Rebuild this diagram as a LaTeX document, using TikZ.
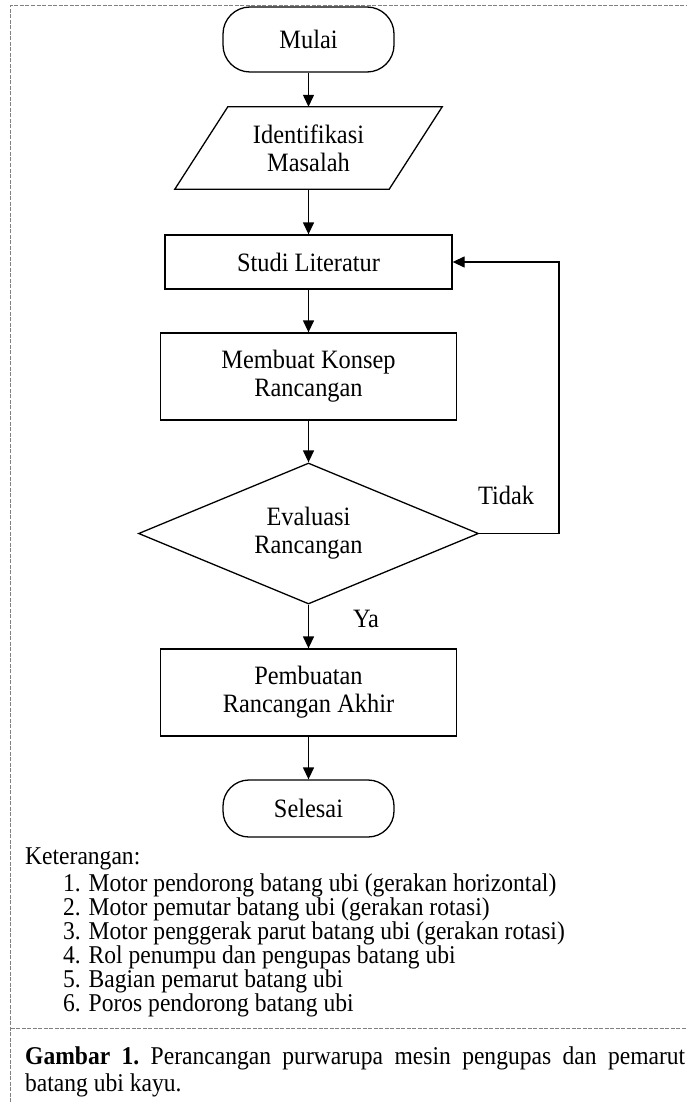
\documentclass[tikz,border=0pt]{standalone}
\usepackage{fontspec}
\setmainfont[FakeStretch=0.92]{Liberation Serif}
\usetikzlibrary{arrows.meta,shapes.geometric,calc}
\begin{document}
\begin{tikzpicture}[x=1pt,y=-1pt,
  every node/.style={font=\fontsize{26.5}{28}\selectfont, inner sep=0pt},
  box/.style={draw, line width=1.3pt, rectangle, align=center},
  term/.style={draw, line width=1.3pt, rectangle, rounded corners=27pt},
  dec/.style={draw, line width=1.3pt, diamond, align=center, aspect=2.4},
  flow/.style={line width=1.3pt, -{Triangle[length=12pt,width=11pt]}},
  frame/.style={draw=gray, line width=1pt, dash pattern=on 4pt off 1.5pt},
  legend/.style={anchor=base west, font=\fontsize{25.6}{27}\selectfont}]
\useasboundingbox (0,0) rectangle (687,1102);

% frame
\draw[frame] (10.5,1102) -- (10.5,6) -- (687,6);
\draw[frame] (10.5,1028) -- (687,1028);

% flowchart nodes
\node[term, minimum width=171pt, minimum height=65pt] (mulai) at (308.5,39.5) {Mulai};
\node[align=center, minimum width=214pt, minimum height=82pt] (idm) at (308.5,148) {Identifikasi\\Masalah};
\draw[line width=1.3pt] ($(idm.north west)+(26.5,0)$) -- ($(idm.north east)+(26.5,0)$)
  -- ($(idm.south east)+(-26.5,0)$) -- ($(idm.south west)+(-26.5,0)$) -- cycle;
\node[box, minimum width=287pt, minimum height=54pt] (studi) at (308.5,262) {Studi Literatur};
\node[box, minimum width=296pt, minimum height=87pt] (konsep) at (308.5,376.5) {Membuat Konsep\\Rancangan};
\node[dec, minimum width=340pt, minimum height=141pt] (eval) at (308.5,533.5) {Evaluasi\\Rancangan};
\node[box, minimum width=296pt, minimum height=87pt] (akhir) at (308.5,692.5) {Pembuatan\\Rancangan Akhir};
\node[term, minimum width=171pt, minimum height=57pt, rounded corners=26pt] (selesai) at (308.5,808.5) {Selesai};

% connectors
\draw[flow] (mulai.south) -- (idm.north);
\draw[flow] (idm.south) -- (studi.north);
\draw[flow] (studi.south) -- (konsep.north);
\draw[flow] (konsep.south) -- (eval.north);
\draw[flow] (eval.south) -- (akhir.north);
\draw[flow] (akhir.south) -- (selesai.north);
\coordinate (lp1) at (559,533.5);
\coordinate (lp2) at (559,262);
\draw[flow] (eval.east) -- (lp1) -- (lp2) -- (studi.east);

\node (tidak) at (506,495) {Tidak};
\node (ya) at (366,619) {Ya};

% legend
\node[legend] (ket) at (25,864) {Keterangan:};
\node[legend] (k1) at (63,891) {1. Motor pendorong batang ubi (gerakan horizontal)};
\node[legend] (k2) at (63,915) {2. Motor pemutar batang ubi (gerakan rotasi)};
\node[legend] (k3) at (63,939) {3. Motor penggerak parut batang ubi (gerakan rotasi)};
\node[legend] (k4) at (63,963) {4. Rol penumpu dan pengupas batang ubi};
\node[legend] (k5) at (63,987) {5. Bagian pemarut batang ubi};
\node[legend] (k6) at (63,1011) {6. Poros pendorong batang ubi};

% caption
\node[legend] (cap1) at (25,1064) {\makebox[660pt][s]{\textbf{Gambar 1.}\ Perancangan purwarupa mesin pengupas dan pemarut}};
\node[legend] (cap2) at (25,1091) {batang ubi kayu.};
\end{tikzpicture}
\end{document}
